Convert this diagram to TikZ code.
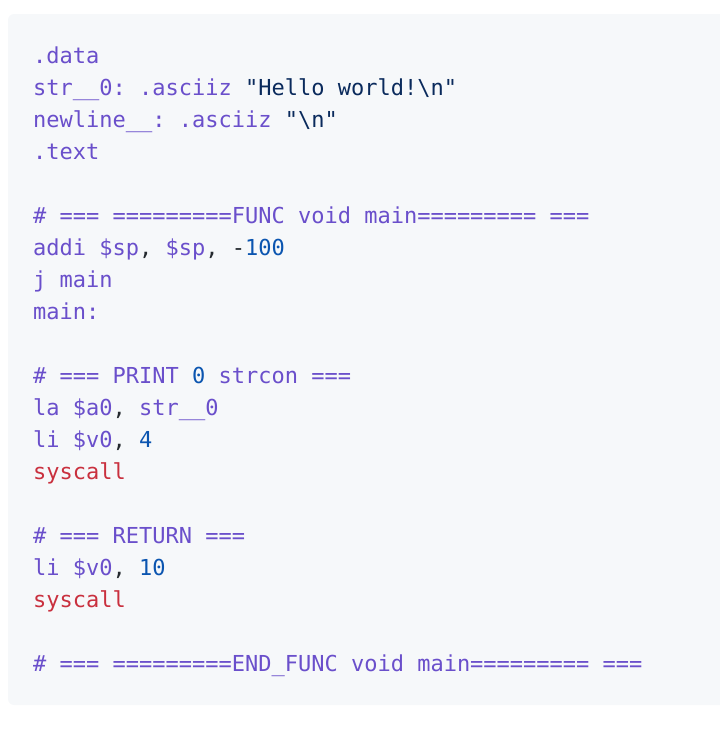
\documentclass[tikz,border=0pt]{standalone}
\usepackage{fontspec}
\setmonofont{DejaVu Sans Mono}
\usepackage{xcolor}
\usetikzlibrary{positioning}

\definecolor{codebg}{HTML}{F6F8FA}
\definecolor{asmpurple}{HTML}{6A4FCB}
\definecolor{asmnavy}{HTML}{0A2A5C}
\definecolor{asmblue}{HTML}{0B55B0}
\definecolor{asmred}{HTML}{C9303E}
\definecolor{asmtext}{HTML}{24292E}

\newcommand{\asmop}[1]{\textcolor{asmpurple}{#1}}
\newcommand{\asmstr}[1]{\textcolor{asmnavy}{#1}}
\newcommand{\asmnum}[1]{\textcolor{asmblue}{#1}}
\newcommand{\asmsys}[1]{\textcolor{asmred}{#1}}

\begin{document}
\begin{tikzpicture}
  \tikzstyle{asmline}=[inner sep=0pt, anchor=base west, text=asmtext,
    font=\ttfamily\fontsize{22pt}{32pt}\selectfont]

  \useasboundingbox (0,0) rectangle (720pt,-729pt);
  \fill[codebg, rounded corners=6pt] (8pt,-14pt) rectangle (740pt,-705pt);

  % .data section
  \node[asmline]                                   (data)    at (33pt,-63pt) {\asmop{.data}};
  \node[below=32pt of data.base west, asmline]     (str0)    {\asmop{str\_\_0: .asciiz} \asmstr{"Hello world!\textbackslash n"}};
  \node[below=32pt of str0.base west, asmline]     (newline) {\asmop{newline\_\_: .asciiz} \asmstr{"\textbackslash n"}};
  \node[below=32pt of newline.base west, asmline]  (text)    {\asmop{.text}};

  % func main
  \node[below=64pt of text.base west, asmline]     (func)    {\asmop{\# === =========FUNC void main========= ===}};
  \node[below=32pt of func.base west, asmline]     (addi)    {\asmop{addi \$sp}, \asmop{\$sp}, -\asmnum{100}};
  \node[below=32pt of addi.base west, asmline]     (jmain)   {\asmop{j main}};
  \node[below=32pt of jmain.base west, asmline]    (main)    {\asmop{main:}};

  % print
  \node[below=64pt of main.base west, asmline]     (print)   {\asmop{\# === PRINT} \asmnum{0} \asmop{strcon ===}};
  \node[below=32pt of print.base west, asmline]    (la)      {\asmop{la \$a0}, \asmop{str\_\_0}};
  \node[below=32pt of la.base west, asmline]       (li4)     {\asmop{li \$v0}, \asmnum{4}};
  \node[below=32pt of li4.base west, asmline]      (sys1)    {\asmsys{syscall}};

  % return
  \node[below=64pt of sys1.base west, asmline]     (ret)     {\asmop{\# === RETURN ===}};
  \node[below=32pt of ret.base west, asmline]      (li10)    {\asmop{li \$v0}, \asmnum{10}};
  \node[below=32pt of li10.base west, asmline]     (sys2)    {\asmsys{syscall}};

  \node[below=64pt of sys2.base west, asmline]     (endfunc) {\asmop{\# === =========END\_FUNC void main========= ===}};
\end{tikzpicture}
\end{document}
